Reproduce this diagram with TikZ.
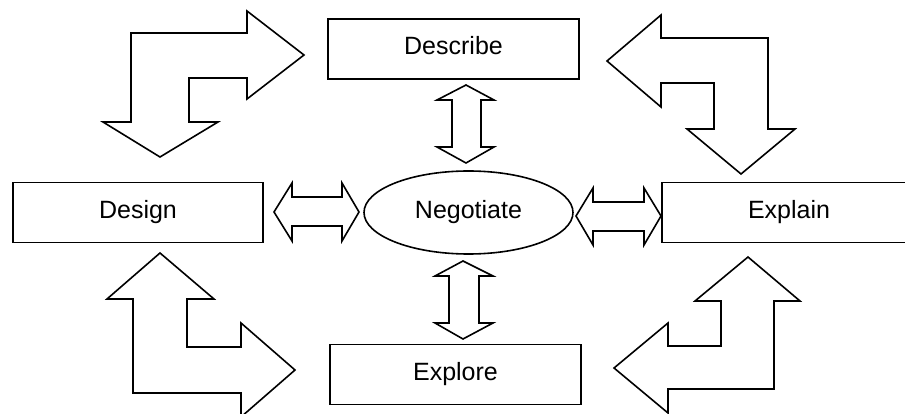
\documentclass[tikz,border=0pt]{standalone}
\usepackage{fontspec}
\setmainfont{Liberation Sans}
\usetikzlibrary{shapes.geometric}
\begin{document}
\begin{tikzpicture}[x=1pt,y=-1pt,
  lw/.style={line width=1.6pt},
  box/.style={draw,lw,rectangle,inner sep=0pt,minimum height=60pt,
    font=\fontsize{25}{30}\selectfont,text height=18pt,text depth=6pt},
  oval/.style={draw,lw,ellipse,inner sep=0pt,minimum width=209pt,minimum height=83pt,
    font=\fontsize{25}{30}\selectfont,text height=18pt,text depth=6pt},
  blockarrow/.style={draw,lw,fill=white,line join=miter}]
\useasboundingbox (0,0) rectangle (905,414);
\clip (0,0) rectangle (905,414);
% boxes
\node[box,minimum width=251pt] (describe) at (453.5,49) {Describe};
\node[box,minimum width=250pt] (design) at (138,212.5) {Design};
\node[box,minimum width=254pt] (explain) at (789,212.5) {Explain};
\node[box,minimum width=251pt] (explore) at (455.5,374.5) {Explore};
\node[oval] (negotiate) at (468.5,212.5) {Negotiate};
% bent arrows
\draw[blockarrow] (131,122) -- (131,33) -- (247,33) -- (247,11) -- (304,55) -- (247,99) -- (247,78) -- (189,78) -- (189,122) -- (218,122) -- (160,157) -- (103,122) -- cycle;
\draw[blockarrow] (768,129) -- (768,38) -- (661,38) -- (661,15) -- (607,61) -- (661,107) -- (661,83) -- (714,83) -- (714,129) -- (687,129) -- (741,174) -- (795,129) -- cycle;
\draw[blockarrow] (133,299) -- (133,393) -- (241,393) -- (241,417) -- (295,370) -- (241,323) -- (241,347) -- (187,347) -- (187,299) -- (214,299) -- (160,253) -- (107,299) -- cycle;
\draw[blockarrow] (774,301) -- (774,389) -- (668,389) -- (668,413) -- (614,368) -- (668,323) -- (668,346) -- (721,346) -- (721,301) -- (695,301) -- (748,257) -- (800,301) -- cycle;
% double arrows
\draw[blockarrow] (274,212) -- (292,183) -- (292,197) -- (342,197) -- (342,183) -- (359,212) -- (342,241) -- (342,226) -- (292,226) -- (292,241) -- cycle;
\draw[blockarrow] (576,216) -- (593,188) -- (593,202) -- (644,202) -- (644,188) -- (661,216) -- (644,245) -- (644,231) -- (593,231) -- (593,245) -- cycle;
\draw[blockarrow] (466,85) -- (494,100) -- (481,100) -- (481,147) -- (494,147) -- (466,163) -- (437,147) -- (452,147) -- (452,100) -- (437,100) -- cycle;
\draw[blockarrow] (463,261) -- (493,276) -- (479,276) -- (479,323) -- (493,323) -- (463,339) -- (435,323) -- (449,323) -- (449,276) -- (435,276) -- cycle;
\end{tikzpicture}
\end{document}
